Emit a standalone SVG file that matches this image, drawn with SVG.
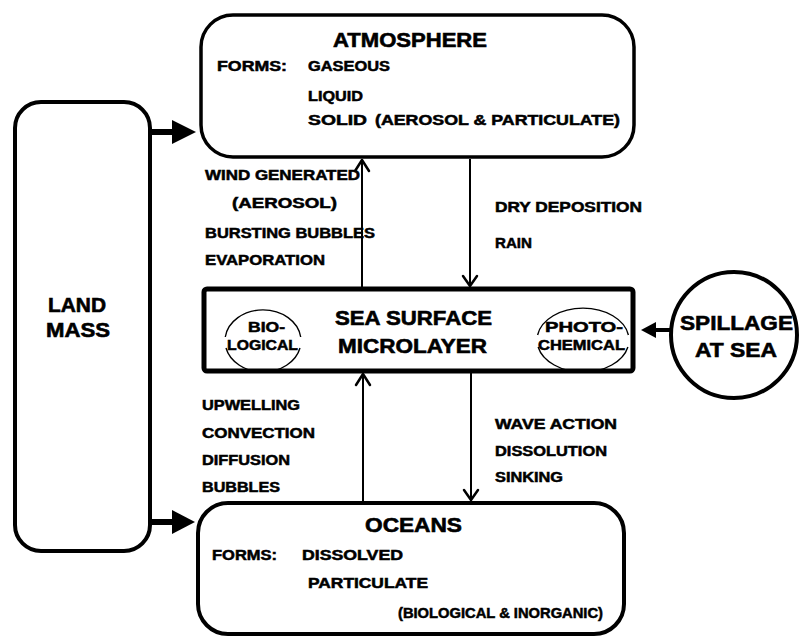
<svg xmlns="http://www.w3.org/2000/svg" width="802" height="638" viewBox="0 0 802 638">
<style>
  .box{fill:none;stroke:#000;}
  text{font-family:"Liberation Sans",Arial,Helvetica,sans-serif;font-weight:bold;fill:#000;stroke:#000;stroke-width:0.5;}
  .t{font-size:20px;stroke-width:0.6;}
  .s{font-size:14px;}
  .sp{font-size:21px;stroke-width:0.6;}
  .ln{fill:none;stroke:#000;stroke-width:2;}
  .chev{fill:none;stroke:#000;stroke-width:2.5;stroke-linecap:round;stroke-linejoin:round;}
  .thick{fill:none;stroke:#000;stroke-width:6;}
  .arc{fill:none;stroke:#000;stroke-width:1.4;}
</style>
<rect width="802" height="638" fill="#fff"/>

<g id="land-mass">
  <rect class="box" x="15" y="102" width="135" height="449" rx="26" stroke-width="4"/>
  <text class="t" x="48" y="312" textLength="58" lengthAdjust="spacingAndGlyphs">LAND</text>
  <text class="t" x="46" y="337" textLength="64" lengthAdjust="spacingAndGlyphs">MASS</text>
</g>

<g id="atmosphere">
  <rect class="box" x="201" y="15" width="433" height="142" rx="32" stroke-width="3.5"/>
  <text class="t" x="333" y="47" textLength="154" lengthAdjust="spacingAndGlyphs">ATMOSPHERE</text>
  <text class="s" x="217" y="71" textLength="70" lengthAdjust="spacingAndGlyphs">FORMS:</text>
  <text class="s" x="308" y="71" textLength="82" lengthAdjust="spacingAndGlyphs">GASEOUS</text>
  <text class="s" x="308" y="101" textLength="55" lengthAdjust="spacingAndGlyphs">LIQUID</text>
  <text class="s" x="308" y="125" textLength="59" lengthAdjust="spacingAndGlyphs">SOLID</text>
  <text class="s" x="375" y="125" textLength="245" lengthAdjust="spacingAndGlyphs">(AEROSOL &amp; PARTICULATE)</text>
</g>

<g id="microlayer">
  <rect class="box" x="204" y="289" width="429" height="82" rx="3" stroke-width="5"/>
  <text class="t" x="335" y="325" textLength="157" lengthAdjust="spacingAndGlyphs">SEA SURFACE</text>
  <text class="t" x="338" y="353" textLength="149" lengthAdjust="spacingAndGlyphs">MICROLAYER</text>
  <path class="arc" d="M225.3,337 A38,31 0 0 1 300.7,337 M226,348 A38,31 0 0 0 300,348"/>
  <text class="s" x="248" y="332" textLength="37" lengthAdjust="spacingAndGlyphs">BIO-</text>
  <text class="s" x="227" y="350" textLength="71" lengthAdjust="spacingAndGlyphs">LOGICAL</text>
  <path class="arc" d="M537.6,335 A46,32 0 0 1 628.4,335 M538.1,347 A46,32 0 0 0 627.9,347"/>
  <text class="s" x="545" y="332" textLength="78" lengthAdjust="spacingAndGlyphs">PHOTO-</text>
  <text class="s" x="538" y="350" textLength="87" lengthAdjust="spacingAndGlyphs">CHEMICAL</text>
</g>

<g id="oceans">
  <rect class="box" x="198" y="503" width="426" height="131" rx="30" stroke-width="4"/>
  <text class="t" x="365" y="532" textLength="97" lengthAdjust="spacingAndGlyphs">OCEANS</text>
  <text class="s" x="212" y="560" textLength="65" lengthAdjust="spacingAndGlyphs">FORMS:</text>
  <text class="s" x="302" y="560" textLength="101" lengthAdjust="spacingAndGlyphs">DISSOLVED</text>
  <text class="s" x="308" y="588" textLength="120" lengthAdjust="spacingAndGlyphs">PARTICULATE</text>
  <text class="s" x="398" y="618" textLength="205" lengthAdjust="spacingAndGlyphs">(BIOLOGICAL &amp; INORGANIC)</text>
</g>

<g id="spillage">
  <circle class="box" cx="734" cy="335" r="63" stroke-width="4"/>
  <text class="sp" x="680" y="330" textLength="113" lengthAdjust="spacingAndGlyphs">SPILLAGE</text>
  <text class="sp" x="695" y="357" textLength="82" lengthAdjust="spacingAndGlyphs">AT SEA</text>
</g>

<g id="connectors">
  <path class="thick" d="M150,132 H174"/>
  <path d="M172,120 L196,132 L172,144 Z" fill="#000"/>
  <path class="thick" d="M150,522 H174"/>
  <path d="M172,510 L195,522 L172,534 Z" fill="#000"/>
  <path d="M670,330 H654" fill="none" stroke="#000" stroke-width="4"/>
  <path d="M656,322 L641,330 L656,338 Z" fill="#000"/>
  <path class="ln" d="M362,287 V159"/>
  <path class="chev" d="M355,171 L362,160 L369,171"/>
  <path class="ln" d="M470,159 V287"/>
  <path class="chev" d="M463,276 L470,286 L477,276"/>
  <path class="ln" d="M363,501 V373"/>
  <path class="chev" d="M356,385 L363,374 L370,385"/>
  <path class="ln" d="M471,373 V501"/>
  <path class="chev" d="M464,490 L471,500 L478,490"/>
</g>

<g id="labels">
  <text class="s" x="205" y="180" textLength="155" lengthAdjust="spacingAndGlyphs">WIND GENERATED</text>
  <text class="s" x="232" y="208" textLength="105" lengthAdjust="spacingAndGlyphs">(AEROSOL)</text>
  <text class="s" x="205" y="238" textLength="170" lengthAdjust="spacingAndGlyphs">BURSTING BUBBLES</text>
  <text class="s" x="205" y="265" textLength="120" lengthAdjust="spacingAndGlyphs">EVAPORATION</text>
  <text class="s" x="495" y="212" textLength="147" lengthAdjust="spacingAndGlyphs">DRY DEPOSITION</text>
  <text class="s" x="495" y="248" textLength="37" lengthAdjust="spacingAndGlyphs">RAIN</text>
  <text class="s" x="202" y="410" textLength="98" lengthAdjust="spacingAndGlyphs">UPWELLING</text>
  <text class="s" x="202" y="438" textLength="113" lengthAdjust="spacingAndGlyphs">CONVECTION</text>
  <text class="s" x="202" y="465" textLength="88" lengthAdjust="spacingAndGlyphs">DIFFUSION</text>
  <text class="s" x="202" y="492" textLength="78" lengthAdjust="spacingAndGlyphs">BUBBLES</text>
  <text class="s" x="495" y="429" textLength="122" lengthAdjust="spacingAndGlyphs">WAVE ACTION</text>
  <text class="s" x="495" y="456" textLength="112" lengthAdjust="spacingAndGlyphs">DISSOLUTION</text>
  <text class="s" x="495" y="482" textLength="68" lengthAdjust="spacingAndGlyphs">SINKING</text>
</g>
</svg>
